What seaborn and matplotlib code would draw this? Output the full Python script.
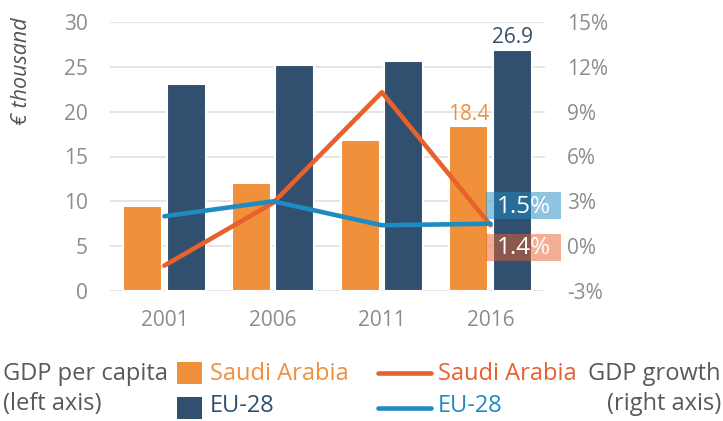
import pandas as pd
import matplotlib.pyplot as plt
import matplotlib.patches as mpatches
import matplotlib.lines as mlines
import seaborn as sns

# chart data
years = ['2001', '2006', '2011', '2016']
gdp_pc_saudi = [9.5, 12.1, 16.8, 18.4]
gdp_pc_eu = [23.1, 25.2, 25.6, 26.9]
growth_saudi = [-1.3, 2.9, 10.3, 1.4]
growth_eu = [2.0, 3.0, 1.4, 1.5]

ORANGE = '#F0903A'
NAVY = '#31506F'
RED = '#E8602C'
BLUE = '#1F8BC0'
TICK = '#8C8C8C'
LEGTXT = '#595959'
TFS = 15    # tick font size
LFS = 17    # legend font size

sns.set_theme(style='white')
plt.rcParams['font.family'] = ['Open Sans', 'DejaVu Sans']

bars = pd.DataFrame({
    'year': years * 2,
    'value': gdp_pc_saudi + gdp_pc_eu,
    'country': ['Saudi Arabia'] * 4 + ['EU-28'] * 4,
})
lines = pd.DataFrame({
    'pos': list(range(len(years))) * 2,
    'growth': growth_saudi + growth_eu,
    'country': ['Saudi Arabia'] * 4 + ['EU-28'] * 4,
})

fig = plt.figure(figsize=(7.23, 4.21), dpi=100)
ax = fig.add_axes([110 / 723, 1 - 291 / 421, 435 / 723, 269 / 421])

ax.yaxis.grid(True, color='#E3E3E3', linewidth=1.3)
ax.set_axisbelow(True)
sns.barplot(data=bars, x='year', y='value', hue='country',
            palette={'Saudi Arabia': ORANGE, 'EU-28': NAVY}, saturation=1,
            width=0.8, gap=0.1, edgecolor='white', linewidth=1.5,
            legend=False, ax=ax)
ax.set_ylim(0, 30)
ax.set_xlim(-0.5, 3.5)
ax.set_yticks(range(0, 31, 5))
ax.set_xlabel('')
ax.set_ylabel('')
ax.tick_params(axis='y', length=0, pad=16, labelsize=TFS, labelcolor=TICK)
ax.tick_params(axis='x', length=0, pad=14, labelsize=TFS, labelcolor=TICK)
for s in ax.spines.values():
    s.set_visible(False)

# value labels on the 2016 bars
ax.annotate(f'{gdp_pc_saudi[-1]:.1f}', (3 - 0.2, gdp_pc_saudi[-1]), xytext=(0, 1),
            textcoords='offset points', ha='center', va='bottom',
            fontsize=TFS, color=ORANGE)
ax.annotate(f'{gdp_pc_eu[-1]:.1f}', (3 + 0.2, gdp_pc_eu[-1]), xytext=(0, 1),
            textcoords='offset points', ha='center', va='bottom',
            fontsize=TFS, color=NAVY)

ax2 = ax.twinx()
sns.lineplot(data=lines, x='pos', y='growth', hue='country',
             palette={'Saudi Arabia': RED, 'EU-28': BLUE},
             linewidth=3.3, legend=False, ax=ax2)
ax2.set_ylim(-3, 15)
ax2.set_yticks(range(-3, 16, 3))
ax2.set_yticklabels([f'{t}%' for t in range(-3, 16, 3)])
ax2.set_xlim(-0.5, 3.5)
ax2.set_xlabel('')
ax2.set_ylabel('')
ax2.tick_params(axis='y', length=0, pad=16, labelsize=TFS, labelcolor=TICK)
for s in ax2.spines.values():
    s.set_visible(False)

# end-of-line labels in translucent boxes
for val, col, y0 in [(growth_eu[-1], BLUE, 1.8), (growth_saudi[-1], RED, -1.0)]:
    ax2.add_patch(mpatches.Rectangle((2.955, y0), 0.69, 1.8, facecolor=col,
                                     alpha=0.5, edgecolor='none', clip_on=False, zorder=5))
    ax2.text(3.31, y0 + 0.85, f'{val}%', ha='center', va='center', color='white',
             fontsize=17.5, zorder=6, clip_on=False)

# y label
fig.text(22 / 723, 1 - 17 / 421, '€ thousand', rotation=90, ha='center', va='top',
         fontsize=15.5, style='italic', color='#555555')

# legend
fig.text(3 / 723, 1 - 374 / 421, 'GDP per capita', ha='left', va='center', fontsize=LFS, color=LEGTXT)
fig.text(3 / 723, 1 - 404 / 421, '(left axis)', ha='left', va='center', fontsize=LFS, color=LEGTXT)
fig.add_artist(mpatches.Rectangle((177 / 723, 1 - 384 / 421), 25 / 723, 22 / 421,
                                  transform=fig.transFigure, facecolor=ORANGE, edgecolor='none'))
fig.add_artist(mpatches.Rectangle((177 / 723, 1 - 419 / 421), 25 / 723, 22 / 421,
                                  transform=fig.transFigure, facecolor=NAVY, edgecolor='none'))
fig.text(210 / 723, 1 - 374 / 421, 'Saudi Arabia', ha='left', va='center', fontsize=LFS, color=ORANGE)
fig.text(210 / 723, 1 - 406 / 421, 'EU-28', ha='left', va='center', fontsize=LFS, color=NAVY)
fig.add_artist(mlines.Line2D([378 / 723, 431 / 723], [1 - 373 / 421] * 2,
                             transform=fig.transFigure, color=RED, linewidth=3.3))
fig.add_artist(mlines.Line2D([378 / 723, 431 / 723], [1 - 408 / 421] * 2,
                             transform=fig.transFigure, color=BLUE, linewidth=3.3))
fig.text(438 / 723, 1 - 374 / 421, 'Saudi Arabia', ha='left', va='center', fontsize=LFS, color=RED)
fig.text(438 / 723, 1 - 406 / 421, 'EU-28', ha='left', va='center', fontsize=LFS, color=BLUE)
fig.text(721 / 723, 1 - 374 / 421, 'GDP growth', ha='right', va='center', fontsize=LFS, color=LEGTXT)
fig.text(721 / 723, 1 - 404 / 421, '(right axis)', ha='right', va='center', fontsize=LFS, color=LEGTXT)

fig.savefig('out.png', dpi=100)
